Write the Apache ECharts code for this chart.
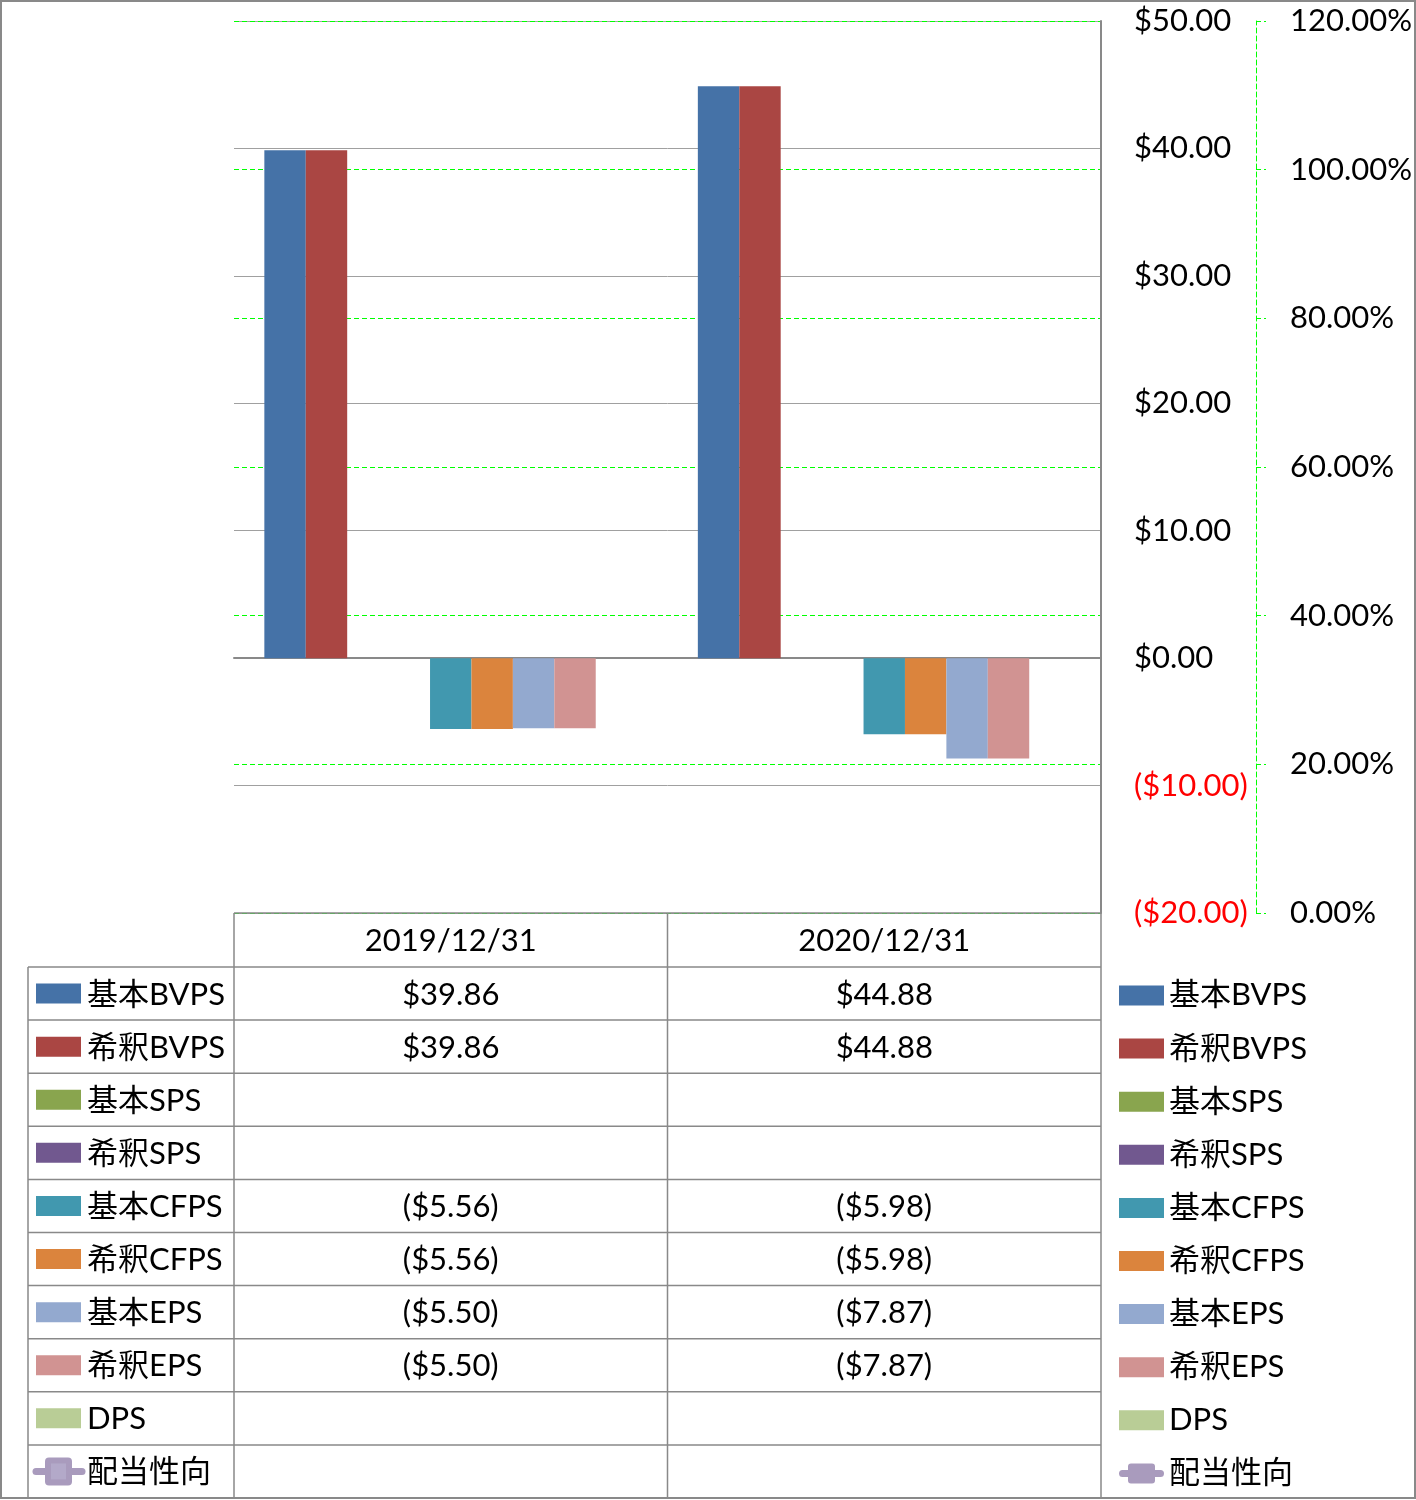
<!DOCTYPE html>
<html><head><meta charset="utf-8">
<script src="https://cdn.jsdelivr.net/npm/echarts@6/dist/echarts.min.js"></script>
<style>html,body{margin:0;padding:0;background:#fff}#c{width:1416px;height:1500px}</style>
</head><body><div id="c"></div>
<script>
// ---- data ----
const categories = ['2019/12/31', '2020/12/31'];
const seriesNames = ['基本BVPS', '希釈BVPS', '基本SPS', '希釈SPS', '基本CFPS', '希釈CFPS', '基本EPS', '希釈EPS', 'DPS', '配当性向'];
const basicBVPS = [39.86, 44.88];
const dilutedBVPS = [39.86, 44.88];
const basicSPS = [null, null];
const dilutedSPS = [null, null];
const basicCFPS = [-5.56, -5.98];
const dilutedCFPS = [-5.56, -5.98];
const basicEPS = [-5.50, -7.87];
const dilutedEPS = [-5.50, -7.87];
const dps = [null, null];
const payoutRatio = [null, null];
const dollarAxisTicks = [-20, -10, 0, 10, 20, 30, 40, 50];
const percentAxisTicks = [0, 20, 40, 60, 80, 100, 120];

// ---- styles ----
const colors = ['#4572a7', '#aa4643', '#89a54e', '#71588f', '#4198af', '#db843d', '#93a9cf', '#d19392', '#b9cd96', '#a99bbd'];
const FONT = 'Lato, "Noto Sans CJK JP", sans-serif';
const FS = 31;
const GRID = { left: 234, right: 315, top: 21, bottom: 587 };
const LINE_GRAY = '#898989';
const LINE_ICON = 'path://M3.5,6.5 H9 V3 Q9,0 12,0 H33 Q36,0 36,3 V6.5 H41.5 A3.5,3.5 0 0 1 41.5,13.5 H36 V17 Q36,20 33,20 H12 Q9,20 9,17 V13.5 H3.5 A3.5,3.5 0 0 1 3.5,6.5 Z';

const barData = [basicBVPS, dilutedBVPS, basicSPS, dilutedSPS, basicCFPS, dilutedCFPS, basicEPS, dilutedEPS, dps];

function fmtDollar(v) {
  if (v === null || v === undefined) return '';
  return v < 0 ? '($' + (-v).toFixed(2) + ')' : '$' + v.toFixed(2);
}

const chart = echarts.init(document.getElementById('c'), null, { renderer: 'canvas' });

const series = barData.map((d, i) => ({
  name: seriesNames[i], type: 'bar', yAxisIndex: 0, data: d,
  barGap: '0%', barCategoryGap: '14%',
  itemStyle: { color: colors[i] }
}));
series.push({
  name: seriesNames[9], type: 'line', yAxisIndex: 1, data: payoutRatio,
  symbol: 'roundRect', symbolSize: 28,
  lineStyle: { color: colors[9], width: 7 },
  itemStyle: { color: colors[9] }
});

const option = {
  animation: false,
  backgroundColor: '#fff',
  textStyle: { fontFamily: FONT },
  grid: { left: GRID.left, right: GRID.right, top: GRID.top, bottom: GRID.bottom, containLabel: false },
  xAxis: {
    type: 'category', data: categories,
    axisLine: { onZero: true, lineStyle: { color: LINE_GRAY, width: 2 } },
    axisTick: { show: false }, axisLabel: { show: false }, splitLine: { show: false }
  },
  yAxis: [
    {
      type: 'value', position: 'right',
      min: dollarAxisTicks[0], max: dollarAxisTicks[dollarAxisTicks.length - 1],
      interval: dollarAxisTicks[1] - dollarAxisTicks[0],
      axisLine: { show: true, lineStyle: { color: LINE_GRAY, width: 2 } },
      axisTick: { show: false },
      splitLine: { show: true, lineStyle: { color: '#a0a0a0', width: 1 } },
      axisLabel: {
        margin: 33, align: 'left', fontSize: FS, fontFamily: FONT, color: '#000',
        formatter: v => v < 0 ? '{neg|' + fmtDollar(v) + '}' : fmtDollar(v),
        rich: { neg: { color: '#ff0000', fontSize: FS, fontFamily: FONT } }
      }
    },
    {
      type: 'value', position: 'right', offset: 155,
      min: percentAxisTicks[0], max: percentAxisTicks[percentAxisTicks.length - 1],
      interval: percentAxisTicks[1] - percentAxisTicks[0],
      axisLine: { show: true, lineStyle: { color: '#00ff00', width: 1, type: [5, 3] } },
      axisTick: { show: true, inside: false, length: 10, lineStyle: { color: '#00ff00', width: 1, type: [5, 3] } },
      splitLine: { show: true, lineStyle: { color: '#00ff00', width: 1, type: [5, 3] } },
      axisLabel: {
        margin: 34, align: 'left', fontSize: FS, fontFamily: FONT, color: '#000',
        formatter: v => v.toFixed(2) + '%'
      }
    }
  ],
  legend: {
    orient: 'vertical', left: 1119, top: 980, height: 600, padding: 0,
    itemWidth: 45, itemHeight: 20, itemGap: 22.1,
    textStyle: { fontSize: FS, fontFamily: FONT, color: '#000' },
    data: seriesNames.map((n, i) => ({ name: n, icon: i < 9 ? 'rect' : LINE_ICON }))
  },
  series: series
};
chart.setOption(option);

// ---- data table drawn from the arrays ----
const plotRight = 1416 - GRID.right;
const tableTop = 1500 - GRID.bottom;
const headerH = 54;
const rowTop = tableTop + headerH;
const rowsBottom = 1498;
const rowH = (rowsBottom - rowTop) / seriesNames.length;
const keyLeft = 28;
const catX = categories.map(c => chart.convertToPixel({ xAxisIndex: 0 }, c));
const colW = (plotRight - GRID.left) / categories.length;

const els = [];
const lineStyle = { stroke: LINE_GRAY, lineWidth: 1.5 };
function hLine(x1, x2, y) { els.push({ type: 'line', shape: { x1, y1: y, x2, y2: y }, style: lineStyle, silent: true }); }
function vLine(x, y1, y2) { els.push({ type: 'line', shape: { x1: x, y1, x2: x, y2 }, style: lineStyle, silent: true }); }

hLine(GRID.left, plotRight, tableTop);
for (let r = 0; r <= seriesNames.length; r++) hLine(keyLeft, plotRight, rowTop + r * rowH);
vLine(keyLeft, rowTop, rowsBottom);
for (let c = 0; c <= categories.length; c++) vLine(GRID.left + c * colW, tableTop, rowsBottom);

categories.forEach((c, i) => {
  els.push({ type: 'text', x: catX[i], y: tableTop + headerH / 2 + 1,
    style: { text: c, font: FS + 'px ' + FONT, fill: '#000', align: 'center', verticalAlign: 'middle' }, silent: true });
});

const allData = barData.concat([payoutRatio]);
seriesNames.forEach((name, r) => {
  const cy = rowTop + r * rowH + rowH / 2;
  if (r < 9) {
    els.push({ type: 'rect', shape: { x: 36, y: cy - 10, width: 45, height: 20 }, style: { fill: colors[r] }, silent: true });
  } else {
    els.push({ type: 'line', shape: { x1: 36, y1: cy, x2: 82, y2: cy }, style: { stroke: colors[r], lineWidth: 7, lineCap: 'round' }, silent: true });
    els.push({ type: 'rect', shape: { x: 45, y: cy - 14, width: 27, height: 28, r: 4 }, style: { fill: colors[r] }, silent: true });
    els.push({ type: 'rect', shape: { x: 51, y: cy - 8, width: 15, height: 16 }, style: { fill: '#b3a9c9' }, silent: true });
  }
  els.push({ type: 'text', x: 87, y: cy + 1,
    style: { text: name, font: FS + 'px ' + FONT, fill: '#000', align: 'left', verticalAlign: 'middle' }, silent: true });
  allData[r].forEach((v, i) => {
    const t = r < 9 ? fmtDollar(v) : (v === null ? '' : v.toFixed(2) + '%');
    if (t) els.push({ type: 'text', x: catX[i], y: cy + 1,
      style: { text: t, font: FS + 'px ' + FONT, fill: '#000', align: 'center', verticalAlign: 'middle' }, silent: true });
  });
});

els.push({ type: 'rect', shape: { x: 1, y: 1, width: 1414, height: 1497 }, style: { fill: null, stroke: LINE_GRAY, lineWidth: 2 }, silent: true });

chart.setOption({ graphic: { elements: els } });
</script>
</body></html>
